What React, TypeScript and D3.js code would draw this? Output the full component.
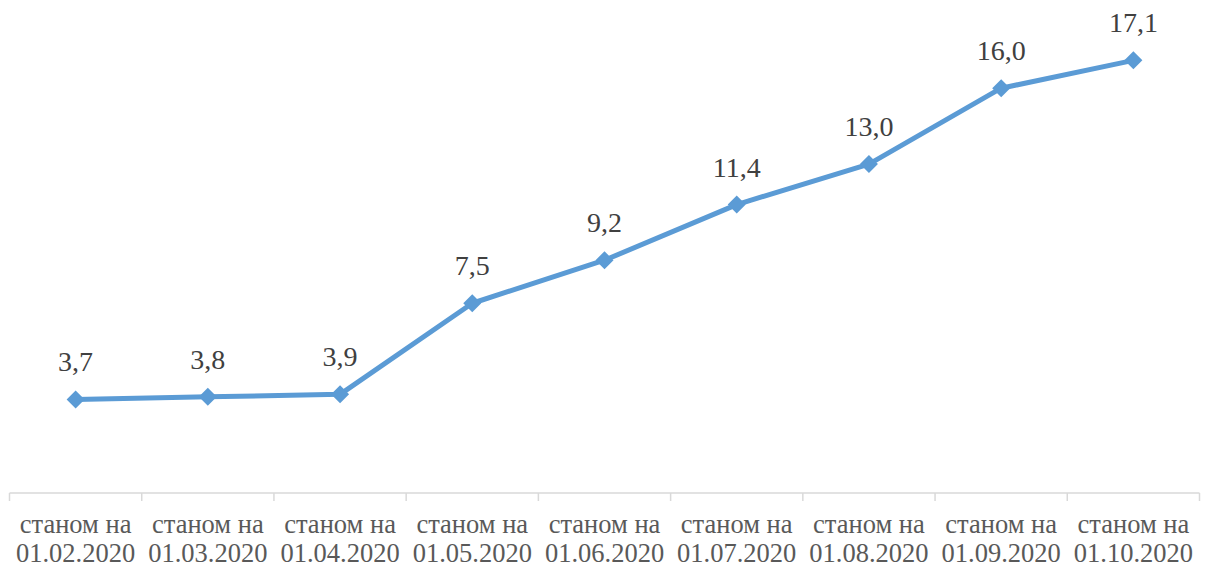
import * as d3 from "d3";

const categories = [
  "01.02.2020",
  "01.03.2020",
  "01.04.2020",
  "01.05.2020",
  "01.06.2020",
  "01.07.2020",
  "01.08.2020",
  "01.09.2020",
  "01.10.2020",
];
const values = [3.7, 3.8, 3.9, 7.5, 9.2, 11.4, 13.0, 16.0, 17.1];
const prefix = "станом на";

const width = 1205;
const height = 567;
const FONT = '"Liberation Serif"';

export default function App() {
  const x = d3.scaleBand().domain(categories).range([9.5, 1199.5]);
  const y = d3.scaleLinear().domain([0, 18]).range([493, 37.6]);
  const cx = (c: string) => (x(c) ?? 0) + x.bandwidth() / 2;

  const line = d3
    .line<number>()
    .x((_, i) => cx(categories[i]))
    .y((d) => y(d));

  const fmt = (v: number) => v.toFixed(1).replace(".", ",");
  const boundaries = [...categories.map((c) => x(c) ?? 0), x.range()[1]];
  const m = 9;

  return (
    <svg
      width={width}
      height={height}
      style={{ position: "absolute", left: 0, top: 0, background: "#fff" }}
    >
      <line
        x1={x.range()[0]}
        x2={x.range()[1]}
        y1={y(0)}
        y2={y(0)}
        stroke="#d9d9d9"
        strokeWidth={1.5}
      />
      {boundaries.map((b, i) => (
        <line key={i} x1={b} x2={b} y1={y(0)} y2={y(0) + 8} stroke="#d9d9d9" strokeWidth={1.5} />
      ))}

      <path d={line(values) ?? ""} fill="none" stroke="#5b9bd5" strokeWidth={5} strokeLinejoin="round" />

      {values.map((v, i) => {
        const px = cx(categories[i]);
        const py = y(v);
        return (
          <g key={i}>
            <path
              d={`M${px},${py - m}L${px + m},${py}L${px},${py + m}L${px - m},${py}Z`}
              fill="#5b9bd5"
            />
            <text
              x={px}
              y={py - 28}
              textAnchor="middle"
              style={{ fontFamily: FONT, fontSize: 28 }}
              fill="#404040"
            >
              {fmt(v)}
            </text>
          </g>
        );
      })}

      {categories.map((c) => (
        <g key={c} style={{ fontFamily: FONT, fontSize: 26.5 }} fill="#595959">
          <text x={cx(c)} y={533} textAnchor="middle">{prefix}</text>
          <text x={cx(c)} y={562} textAnchor="middle">{c}</text>
        </g>
      ))}
    </svg>
  );
}
